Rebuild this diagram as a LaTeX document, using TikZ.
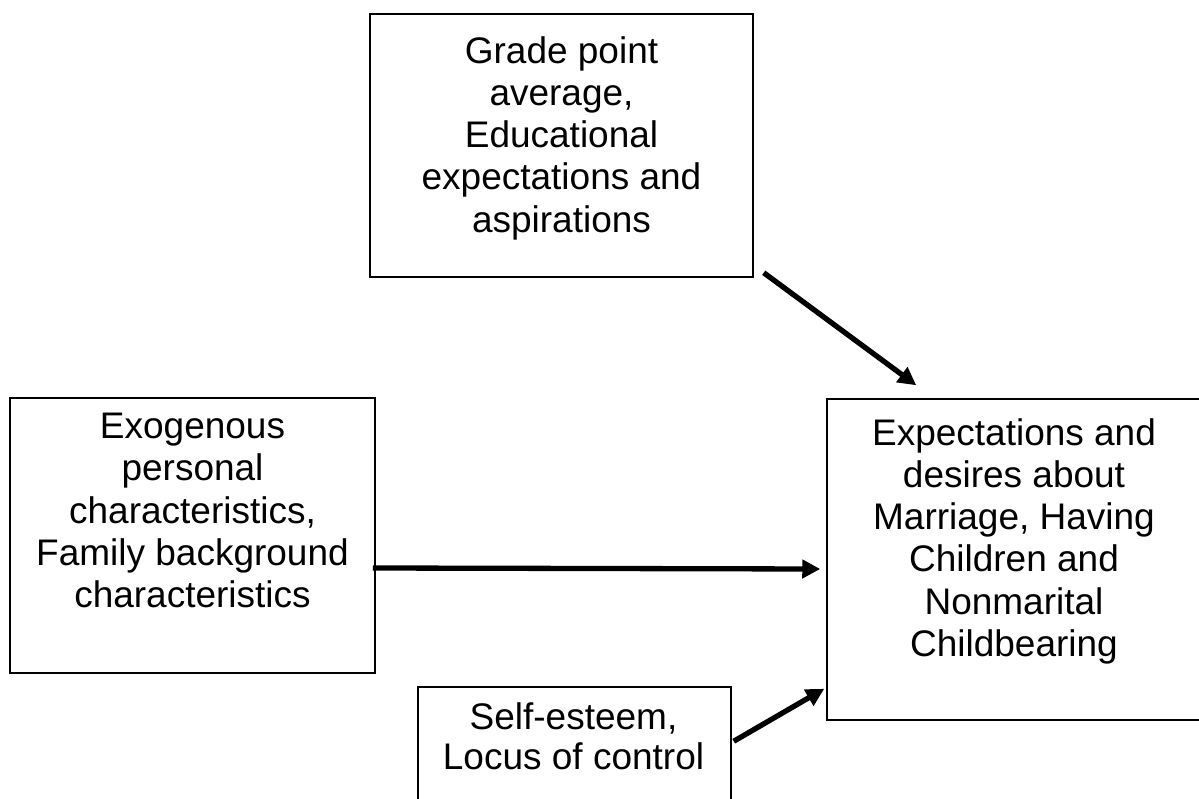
\documentclass[tikz,border=0pt]{standalone}
\usepackage{fontspec}
\setmainfont{Liberation Sans}
\usetikzlibrary{arrows.meta}
\begin{document}
\begin{tikzpicture}[x=1pt,y=-1pt,
  boxshape/.style={draw=black,line width=1.5pt,inner sep=0pt,rectangle},
  label/.style={anchor=north,inner sep=0pt,align=center,font=\fontsize{37}{42.3}\selectfont},
  conn/.style={line width=5.3pt,-{Triangle[length=18pt,width=18pt]}}]
\useasboundingbox (0,0) rectangle (1199,799);
\clip (0,0) rectangle (1199,799);
% boxes
\node[boxshape,minimum width=383pt,minimum height=263pt] (tb) at (561.5,145.5) {};
\node[boxshape,minimum width=365pt,minimum height=275pt] (lb) at (192.5,535.5) {};
\node[boxshape,minimum width=374pt,minimum height=321pt] (rb) at (1014,559.5) {};
\node[boxshape,minimum width=313pt,minimum height=163pt] (bb) at (574.5,768.5) {};
% texts
\node[label] (tbt) at (561.5,36) {Grade point\\average,\\Educational\\expectations and\\aspirations};
\node[label] (lbt) at (192.5,413) {Exogenous\\personal\\characteristics,\\Family background\\characteristics};
\node[label] (rbt) at (1014,418) {Expectations and\\desires about\\Marriage, Having\\Children and\\Nonmarital\\Childbearing};
\node[label,font=\fontsize{37}{40}\selectfont] (bbt) at (573.5,702) {Self-esteem,\\Locus of control};
% connectors
\draw[conn] ([xshift=10pt,yshift=5pt]tb.south east) -- ([xshift=90pt,yshift=13pt]rb.north west);
\draw[conn] ([xshift=-3pt,yshift=-32.5pt]lb.east) -- ([xshift=-6pt,yshift=-9.5pt]rb.west);
\draw[conn] ([xshift=2pt,yshift=-55pt]bb.north east) -- ([xshift=-2pt,yshift=32pt]rb.south west);
\end{tikzpicture}
\end{document}
